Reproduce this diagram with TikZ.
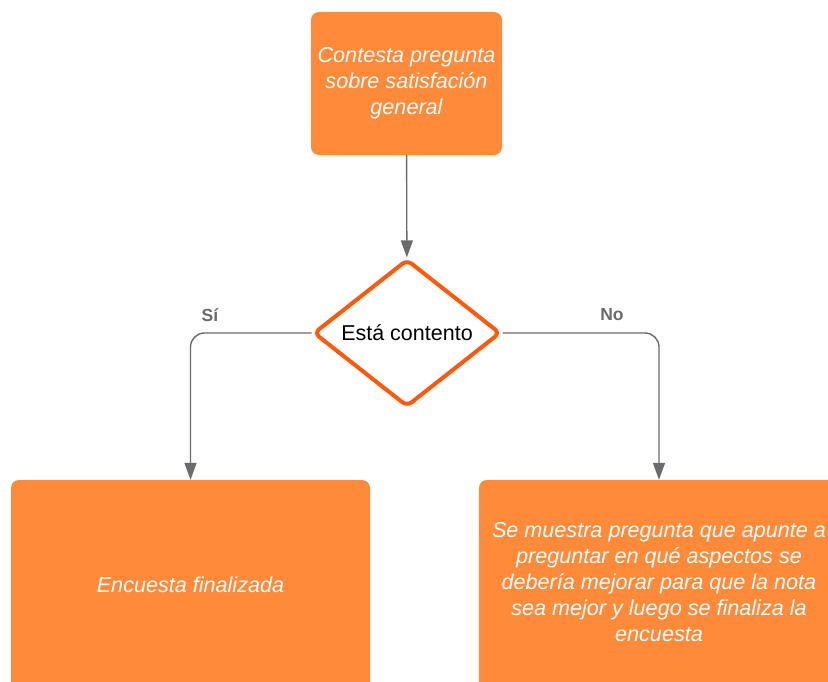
\documentclass[tikz,border=0pt]{standalone}
\usepackage{fontspec}
\setmainfont{Liberation Sans}
\usetikzlibrary{shapes.geometric,arrows.meta}
\definecolor{boxorange}{HTML}{FF8A3A}
\definecolor{edgeorange}{HTML}{FF5A0A}
\definecolor{linegray}{HTML}{6B6B6B}
\begin{document}
\begin{tikzpicture}[x=1pt,y=-1pt,
    stepbox/.style={rectangle,rounded corners=8pt,fill=boxorange,text=white,
        align=center,font=\fontsize{21.6}{26}\selectfont\itshape,inner sep=0pt},
    choice/.style={diamond,draw=edgeorange,line width=4pt,rounded corners=6pt,fill=white,
        font=\fontsize{21.5}{24}\selectfont,inner sep=0pt,
        minimum width=187pt,minimum height=140pt},
    flow/.style={draw=linegray,line width=1.4pt,-{Triangle[length=17pt,width=12pt]}},
    answer/.style={text=linegray,font=\fontsize{17.5}{20}\selectfont\bfseries}]
    \useasboundingbox (0,0) rectangle (828,682);
    \clip (0,0) rectangle (828,682);
    \node[stepbox,minimum width=191pt,minimum height=143pt] (ask) at (406.5,83.5)
        {Contesta pregunta\\sobre satisfación\\general};
    \node[choice] (cond) at (407,333) {Está contento};
    \node[stepbox,minimum width=359pt,minimum height=216pt] (done) at (190.5,588)
        {\raisebox{6pt}{Encuesta finalizada}};
    \node[stepbox,minimum width=360pt,minimum height=216pt,text depth=12pt] (improve) at (659,588)
        {Se muestra pregunta que apunte a\\preguntar en qué aspectos se\\debería mejorar para que la nota\\sea mejor y luego se finaliza la\\encuesta};
    % connectors
    \draw[flow] (ask) -- (cond);
    \draw[flow,rounded corners=14pt] (cond.west) -| (done.north);
    \draw[flow,rounded corners=14pt] (cond.east) -| (improve.north);
    \node[answer] (yes) at (210,315) {Sí};
    \node[answer] (no) at (612,315) {No};
\end{tikzpicture}
\end{document}
